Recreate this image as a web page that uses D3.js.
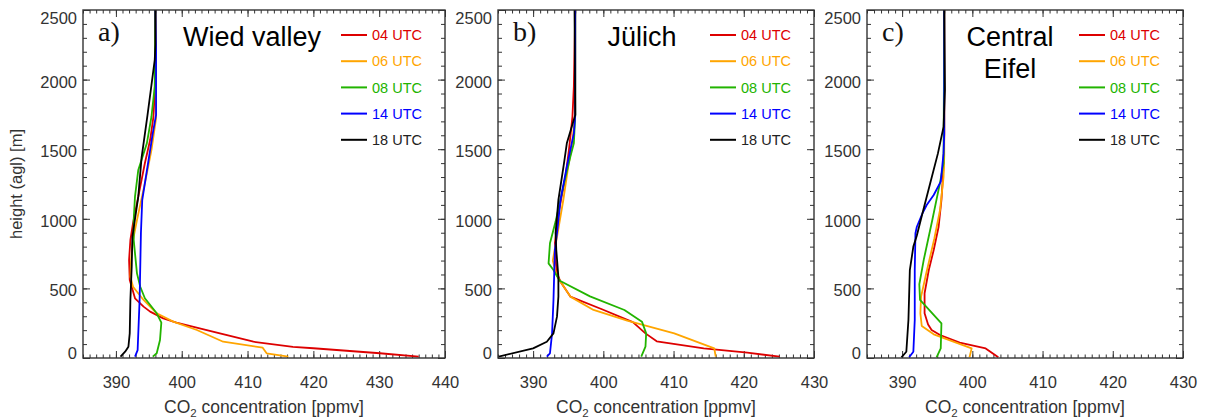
<!DOCTYPE html>
<html>
<head>
<meta charset="utf-8">
<script src="https://cdn.jsdelivr.net/npm/d3@7"></script>
<style>
  html, body { margin: 0; padding: 0; background: #fff; }
  svg { display: block; }
  text { font-family: "Liberation Sans", Arial, Helvetica, sans-serif; }
</style>
</head>
<body>
<svg id="chart" width="1205" height="419"></svg>
<script>
// Vertical CO2 profiles: each point is [CO2 ppmv, height agl in m]
const seriesNames = ["04 UTC", "06 UTC", "08 UTC", "14 UTC", "18 UTC"];
const seriesColors = ["#dd0000", "#ffa500", "#22b400", "#0000ff", "#000000"];

const heightTicks = [0, 500, 1000, 1500, 2000, 2500];
const co2TicksWide = [390, 400, 410, 420, 430, 440];
const co2TicksNarrow = [390, 400, 410, 420, 430];

const panelLetters = ["a)", "b)", "c)"];
const panelTitles = [["Wied valley"], ["Jülich"], ["Central", "Eifel"]];

// a) Wied valley
const wied04 = [[436.0,10],[430.1,34],[420.0,70],[416.9,80],[410.9,117],[405.8,177],[399.2,254],[397.2,285],[395.2,333],[394.2,369],[392.9,429],[392.4,512],[392.1,560],[392.0,704],[392.2,848],[392.6,968],[393.4,1159],[394.4,1399],[395.2,1566],[395.7,1733],[395.9,1902],[396.0,2141],[396.0,2500]];
const wied06 = [[416.2,10],[412.9,34],[412.3,74],[406.3,117],[402.3,201],[398.7,261],[396.2,321],[394.2,417],[392.6,512],[392.2,584],[392.3,704],[392.6,848],[393.2,991],[394.4,1255],[395.4,1494],[396.1,1722],[396.1,2000],[396.0,2500]];
const wied08 = [[395.6,10],[396.2,34],[396.7,129],[396.9,254],[396.2,321],[394.4,429],[393.7,512],[393.2,608],[392.7,848],[392.7,991],[392.9,1159],[393.4,1351],[394.7,1542],[395.4,1733],[395.9,1949],[396.0,2500]];
const wied14 = [[392.9,10],[393.3,57],[393.6,417],[393.7,656],[393.8,896],[394.0,1135],[394.8,1374],[395.6,1614],[396.1,1746],[396.1,2213],[396.0,2500]];
const wied18 = [[390.7,10],[391.4,45],[391.9,81],[392.1,177],[392.2,417],[392.4,656],[392.5,871],[393.4,1159],[393.9,1440],[394.8,1745],[395.4,1960],[395.9,2141],[396.0,2250],[396.0,2500]];

// b) Jülich
const juelich04 = [[425.1,10],[420.5,38],[414.3,69],[407.6,120],[406.0,177],[404.2,258],[399.8,350],[395.3,441],[393.9,548],[393.4,608],[393.2,704],[393.1,824],[393.7,1063],[394.6,1302],[395.1,1494],[395.6,1733],[395.8,1949],[396.0,2500]];
const juelich06 = [[416.0,10],[415.8,69],[410.1,177],[403.4,268],[398.6,345],[395.3,441],[393.9,548],[393.3,600],[392.8,700],[393.5,900],[394.3,1135],[395.0,1374],[395.5,1518],[396.0,1750],[396.0,2500]];
const juelich08 = [[405.4,10],[406.0,81],[406.1,177],[405.5,261],[403.0,345],[398.1,443],[393.8,555],[392.9,632],[392.2,680],[392.4,824],[393.2,980],[394.3,1231],[395.3,1446],[395.8,1542],[396.0,1746],[396.0,2500]];
const juelich14 = [[391.95,10],[392.4,34],[392.7,177],[392.9,417],[393.1,776],[393.4,896],[393.9,1135],[394.8,1374],[395.8,1614],[396.0,1746],[396.0,2500]];
const juelich18 = [[385.1,10],[390.0,69],[391.95,117],[392.9,177],[393.4,297],[393.6,441],[393.6,584],[393.3,776],[393.2,900],[393.6,1135],[394.4,1400],[394.8,1542],[396.0,1746],[395.9,2500]];

// c) Central Eifel
const eifel04 = [[403.7,5],[401.9,69],[398.2,110],[395.4,165],[394.2,201],[393.7,240],[393.2,321],[393.2,465],[393.8,632],[394.5,776],[395.2,943],[395.6,1135],[395.9,1374],[396.0,1600],[396.0,2500]];
const eifel06 = [[399.6,5],[399.9,69],[394.5,170],[392.8,230],[392.6,321],[392.7,441],[393.4,600],[394.6,860],[395.4,1063],[395.9,1300],[396.0,1450],[396.0,2500]];
const eifel08 = [[394.9,5],[395.5,69],[395.6,249],[392.55,417],[392.45,530],[393.1,710],[394.3,991],[395.4,1260],[395.9,1400],[396.0,2500]];
const eifel14 = [[391.0,5],[391.6,45],[391.8,273],[391.8,632],[391.9,896],[392.1,943],[392.9,1040],[393.5,1099],[394.5,1171],[395.5,1267],[395.9,1470],[396.0,1614],[396.0,2500]];
const eifel18 = [[389.9,5],[390.6,45],[390.9,273],[391.1,632],[391.6,800],[392.1,880],[392.7,1000],[393.1,1080],[394.0,1255],[395.1,1470],[395.9,1660],[396.1,1925],[396.0,2500]];

const panels = [
  { series: [wied04, wied06, wied08, wied14, wied18], domain: [385, 440], ticks: co2TicksWide,
    left: 83, right: 445, titleX: 252 },
  { series: [juelich04, juelich06, juelich08, juelich14, juelich18], domain: [385, 430], ticks: co2TicksNarrow,
    left: 498, right: 814, titleX: 642 },
  { series: [eifel04, eifel06, eifel08, eifel14, eifel18], domain: [385, 430], ticks: co2TicksNarrow,
    left: 867, right: 1183, titleX: 1010 }
];

const plotTop = 10, plotBottom = 358;
const axisColor = "#333";
const svg = d3.select("#chart");

const y = d3.scaleLinear().domain([0, 2500]).range([plotBottom, plotTop]);

function styleAxis(g) {
  g.select(".domain").remove();
  g.selectAll(".tick line").attr("stroke", axisColor).attr("stroke-width", 1);
  g.selectAll("text").attr("fill", "#333").style("font-size", "16.5px")
    .style("font-family", "'Liberation Sans', Arial, sans-serif");
}

panels.forEach((p, i) => {
  const x = d3.scaleLinear().domain(p.domain).range([p.left, p.right]);
  const g = svg.append("g");
  const minorX = d3.range(p.domain[0], p.domain[1] + 0.001, 1);
  const minorY = d3.range(0, 2501, 100);

  // minor ticks on all four sides
  g.append("g").attr("transform", `translate(0,${plotBottom})`)
    .call(d3.axisBottom(x).tickValues(minorX).tickSizeInner(-3.5).tickSizeOuter(0).tickFormat(""))
    .call(styleAxis);
  g.append("g").attr("transform", `translate(0,${plotTop})`)
    .call(d3.axisTop(x).tickValues(minorX).tickSizeInner(-3.5).tickSizeOuter(0).tickFormat(""))
    .call(styleAxis);
  g.append("g").attr("transform", `translate(${p.left},0)`)
    .call(d3.axisLeft(y).tickValues(minorY).tickSizeInner(-4).tickSizeOuter(0).tickFormat(""))
    .call(styleAxis);
  g.append("g").attr("transform", `translate(${p.right},0)`)
    .call(d3.axisRight(y).tickValues(minorY).tickSizeInner(-4).tickSizeOuter(0).tickFormat(""))
    .call(styleAxis);

  // major ticks with labels on bottom and left
  g.append("g").attr("transform", `translate(0,${plotBottom})`)
    .call(d3.axisBottom(x).tickValues(p.ticks).tickSizeInner(-7).tickSizeOuter(0).tickPadding(18).tickFormat(d3.format("d")))
    .call(styleAxis);
  g.append("g").attr("transform", `translate(0,${plotTop})`)
    .call(d3.axisTop(x).tickValues(p.ticks).tickSizeInner(-7).tickSizeOuter(0).tickFormat(""))
    .call(styleAxis);
  const yl = g.append("g").attr("transform", `translate(${p.left},0)`)
    .call(d3.axisLeft(y).tickValues(heightTicks).tickSizeInner(-7).tickSizeOuter(0).tickPadding(6).tickFormat(d3.format("d")))
    .call(styleAxis);
  yl.selectAll(".tick text").attr("dy", d => d === 0 ? "0em" : d === 2500 ? "0.84em" : "0.45em");
  g.append("g").attr("transform", `translate(${p.right},0)`)
    .call(d3.axisRight(y).tickValues(heightTicks).tickSizeInner(-7).tickSizeOuter(0).tickFormat(""))
    .call(styleAxis);

  // profiles
  const clipId = "clip" + i;
  svg.append("clipPath").attr("id", clipId).append("rect")
    .attr("x", p.left).attr("y", plotTop).attr("width", p.right - p.left).attr("height", plotBottom - plotTop);
  const line = d3.line().x(d => x(d[0])).y(d => y(d[1]));
  g.append("g").attr("clip-path", `url(#${clipId})`)
    .selectAll("path").data(p.series).join("path")
    .attr("d", line)
    .attr("fill", "none")
    .attr("stroke", (d, k) => seriesColors[k])
    .attr("stroke-width", 1.8)
    .attr("stroke-linejoin", "round");

  // frame
  g.append("rect").attr("x", p.left).attr("y", plotTop)
    .attr("width", p.right - p.left).attr("height", plotBottom - plotTop)
    .attr("fill", "none").attr("stroke", axisColor).attr("stroke-width", 1.4);

  // panel letter
  g.append("text").attr("x", p.left + 15).attr("y", 41)
    .style("font-family", "'Liberation Serif', 'Times New Roman', serif")
    .style("font-size", "28px").attr("fill", "#111").text(panelLetters[i]);

  // site name
  panelTitles[i].forEach((t, k) => {
    g.append("text").attr("x", p.titleX).attr("y", 46 + k * 32)
      .attr("text-anchor", "middle").style("font-size", "27px").attr("fill", "#000").text(t);
  });

  // legend
  seriesNames.forEach((name, k) => {
    const ly = 35 + k * 26.2;
    const lx = p.right - 104;
    g.append("line").attr("x1", lx).attr("x2", lx + 26).attr("y1", ly).attr("y2", ly)
      .attr("stroke", seriesColors[k]).attr("stroke-width", 2);
    g.append("text").attr("x", lx + 31).attr("y", ly).attr("dy", "0.36em")
      .style("font-size", "14.5px").attr("fill", k === 4 ? "#222" : seriesColors[k]).text(name);
  });

  // x axis title with subscript
  const xt = g.append("text").attr("x", (p.left + p.right) / 2).attr("y", 413)
    .attr("text-anchor", "middle").style("font-size", "17.5px").attr("fill", "#333");
  xt.append("tspan").text("CO");
  xt.append("tspan").attr("dy", 4).style("font-size", "11.5px").text("2");
  xt.append("tspan").attr("dy", -4).text(" concentration [ppmv]");
});

// y axis title
svg.append("text")
  .attr("transform", `translate(16,${(plotTop + plotBottom) / 2}) rotate(-90)`)
  .attr("text-anchor", "middle").attr("dominant-baseline", "central")
  .style("font-size", "16.5px").attr("fill", "#333").text("height (agl) [m]");
</script>
</body>
</html>
